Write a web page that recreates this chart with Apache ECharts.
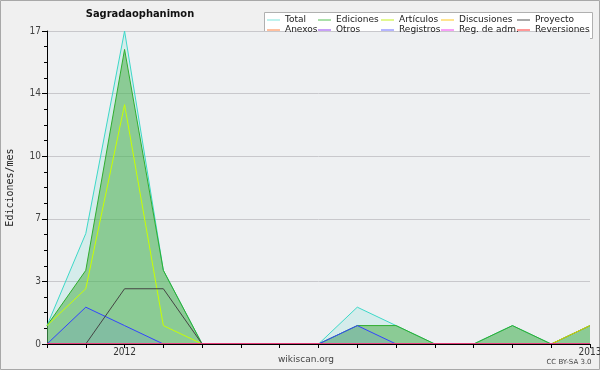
<!DOCTYPE html>
<html><head><meta charset="utf-8">
<script src="https://cdn.jsdelivr.net/npm/echarts@6/dist/echarts.min.js"></script>
<style>html,body{margin:0;padding:0;background:#f0f0f0}#c{width:600px;height:370px}</style>
</head><body><div id="c"></div>
<script>
var months = ['2011-11','2011-12','2012-01','2012-02','2012-03','2012-04','2012-05','2012-06','2012-07','2012-08','2012-09','2012-10','2012-11','2012-12','2013-01'];
var xTickLabels = {'2012-01':'2012','2013-01':'2013'};
var total       = [1,6,17,4,0,0,0,0,2,1,0,0,1,0,1];
var ediciones   = [1,4,16,4,0,0,0,0,1,1,0,0,1,0,1];
var articulos   = [1,3,13,1,0,0,0,0,0,0,0,0,0,0,0];
var discusiones = [0,0,0,0,0,0,0,0,0,0,0,0,0,0,1];
var proyecto    = [0,0,3,3,0,0,0,0,0,0,0,0,0,0,0];
var anexos      = [0,0,0,0,0,0,0,0,0,0,0,0,0,0,0];
var otros       = [0,0,0,0,0,0,0,0,0,0,0,0,0,0,0];
var registros   = [0,2,1,0,0,0,0,0,1,0,0,0,0,0,0];
var regAdm      = [0,0,0,0,0,0,0,0,0,0,0,0,0,0,0];
var reversiones = [0,0,0,0,0,0,0,0,0,0,0,0,0,0,0];
var yMax = 17, yInterval = 3.4;

var FONT = '"DejaVu Sans Condensed","DejaVu Sans",sans-serif';
var legendColors = {
  'Total':'#7ee4dc','Ediciones':'#55c055','Artículos':'#c4f020','Discusiones':'#ffc820','Proyecto':'#555555',
  'Anexos':'#ff8040','Otros':'#9040ee','Registros':'#6a6aff','Reg. de adm.':'#ee40ee','Reversiones':'#ff3030'
};
function ln(name, data, color, z, area) {
  var s = {name:name, type:'line', data:data, symbol:'none', showSymbol:false, z:z,
    lineStyle:{color:color, width:1}, itemStyle:{color:color}};
  if (area) s.areaStyle = area;
  return s;
}
var series = [
  ln('Total', total, '#3dd8c8', 2, {color:'#3dd8c8', opacity:0.14}),
  ln('Ediciones', ediciones, '#2fae2f', 3, {color:'#4fb04f', opacity:0.55}),
  ln('Registros', registros, '#3344ff', 4, {color:'#4060ff', opacity:0.12}),
  ln('Artículos', articulos, '#c8ff00', 5, null),
  ln('Discusiones', discusiones, '#e8c800', 5, null),
  ln('Proyecto', proyecto, '#444444', 5, null),
  ln('Anexos', anexos, '#ff7733', 5, null),
  ln('Otros', otros, '#9933ee', 5, null),
  ln('Reg. de adm.', regAdm, '#ee33ee', 5, null),
  ln('Reversiones', reversiones, '#ff3333', 5, null)
];
function lg(left, names) {
  return {left:left, top:15, orient:'vertical', padding:0, itemWidth:13, itemHeight:1, itemGap:0,
    icon:'rect',
    data:names.map(function(n){ var c = legendColors[n];
      return {name:n, icon:'rect', itemStyle:{color:c, borderWidth:0}}; }),
    textStyle:{fontFamily:'"DejaVu Sans",sans-serif', fontSize:9, color:'#222', lineHeight:10, padding:0}};
}
var chart = echarts.init(document.getElementById('c'), null, {renderer:'canvas'});
chart.setOption({
  backgroundColor:'#f0f0f0',
  animation:false,
  grid:{left:47, right:10, top:31, bottom:26, show:true, backgroundColor:'#eef0f2', borderWidth:0, outerBoundsMode:'none', containLabel:false},
  xAxis:{type:'category', data:months, boundaryGap:false, z:10,
    axisLine:{lineStyle:{color:'#000', width:1}},
    axisTick:{show:true, interval:0, length:4, lineStyle:{color:'#000'}},
    axisLabel:{interval:0, margin:3, fontFamily:FONT, fontSize:10, color:'#333',
      formatter:function(v){return xTickLabels[v]||'';}},
    splitLine:{show:false}},
  yAxis:{type:'value', min:0, max:yMax, interval:yInterval,
    name:'Ediciones/mes', nameLocation:'middle', nameGap:32,
    nameTextStyle:{fontFamily:'"DejaVu Sans Mono",monospace', fontSize:10, color:'#222'},
    axisLine:{show:true, lineStyle:{color:'#000'}},
    axisTick:{show:true, length:5, lineStyle:{color:'#000'}},
    minorTick:{show:true, splitNumber:4, length:3, lineStyle:{color:'#000'}},
    axisLabel:{margin:6, fontFamily:FONT, fontSize:10, color:'#444',
      formatter:function(v){return String(Math.round(v));}},
    splitLine:{show:true, lineStyle:{color:'#c8c8cc', width:1}}},
  legend:[
    lg(267, ['Total','Anexos']),
    lg(318, ['Ediciones','Otros']),
    lg(381, ['Artículos','Registros']),
    lg(441, ['Discusiones','Reg. de adm.']),
    lg(517, ['Proyecto','Reversiones'])
  ],
  graphic:[
    {type:'rect', z:-1, shape:{x:0.5,y:0.5,width:599,height:369}, style:{fill:null, stroke:'#a8a8a8', lineWidth:1}, silent:true},
    {type:'rect', z:-1, shape:{x:264.5,y:12.5,width:328,height:26}, style:{fill:'#ffffff', stroke:'#b0b0b0', lineWidth:1}, silent:true},
    {type:'text', x:140, y:14, style:{text:'Sagradaophanimon', font:'bold 11px '+FONT, fill:'#111', textAlign:'center', textVerticalAlign:'middle'}},
    {type:'text', x:306, y:360, style:{text:'wikiscan.org', font:'9px "DejaVu Sans",sans-serif', fill:'#444', textAlign:'center', textVerticalAlign:'middle'}},
    {type:'text', x:569, y:362, style:{text:'CC BY-SA 3.0', font:'7px "DejaVu Sans",sans-serif', fill:'#444', textAlign:'center', textVerticalAlign:'middle'}}
  ],
  series:series
});
</script></body></html>
